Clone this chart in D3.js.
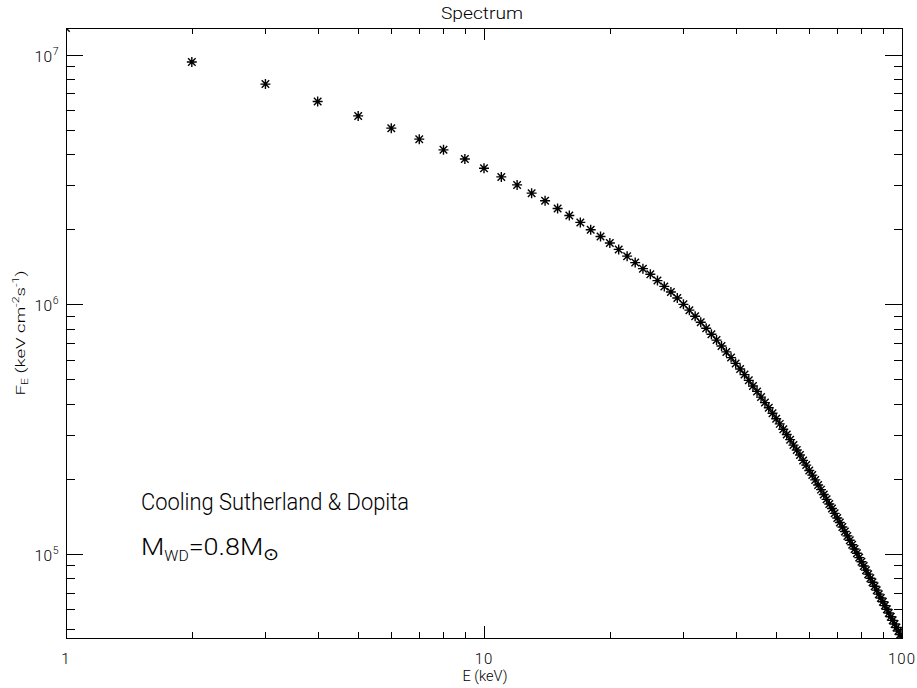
<!DOCTYPE html>
<html>
<head>
<meta charset="utf-8">
<script src="https://cdn.jsdelivr.net/npm/d3@7"></script>
<style>
  html, body { margin: 0; padding: 0; background: #fff; }
  svg { display: block; }
  text { font-family: "Roboto", "DejaVu Sans", sans-serif; font-weight: 300; fill: #000; }
</style>
</head>
<body>
<svg id="chart" width="917" height="688"></svg>
<script>
// ---- data ----
const energies = [1,2,3,4,5,6,7,8,9,10,11,12,13,14,15,16,17,18,19,20,
  21,22,23,24,25,26,27,28,29,30,31,32,33,34,35,36,37,38,39,40,
  41,42,43,44,45,46,47,48,49,50,51,52,53,54,55,56,57,58,59,60,
  61,62,63,64,65,66,67,68,69,70,71,72,73,74,75,76,77,78,79,80,
  81,82,83,84,85,86,87,88,89,90,91,92,93,94,95,96,97,98,99,100];
const flux = [1.28e7,9.35e6,7.63e6,6.50e6,5.69e6,5.08e6,4.59e6,4.16e6,3.82e6,3.51e6,
  3.24e6,3.01e6,2.79e6,2.60e6,2.42e6,2.27e6,2.13e6,1.99e6,1.87e6,1.76e6,
  1.66e6,1.56e6,1.47e6,1.39e6,1.32e6,1.245e6,1.18e6,1.12e6,1.06e6,1.00e6,
  9.48e5,8.96e5,8.48e5,8.02e5,7.59e5,7.19e5,6.81e5,6.45e5,6.12e5,5.80e5,
  5.51e5,5.23e5,4.96e5,4.71e5,4.48e5,4.25e5,4.04e5,3.85e5,3.66e5,3.48e5,
  3.32e5,3.16e5,3.01e5,2.87e5,2.73e5,2.61e5,2.49e5,2.37e5,2.27e5,2.16e5,
  2.07e5,1.98e5,1.89e5,1.81e5,1.73e5,1.655e5,1.585e5,1.52e5,1.454e5,1.394e5,
  1.336e5,1.282e5,1.230e5,1.181e5,1.134e5,1.089e5,1.046e5,1.006e5,9.67e4,9.30e4,
  8.95e4,8.61e4,8.30e4,7.99e4,7.70e4,7.42e4,7.16e4,6.90e4,6.66e4,6.43e4,
  6.21e4,6.00e4,5.80e4,5.60e4,5.42e4,5.24e4,5.07e4,4.91e4,4.755e4,4.605e4];
const xMajorTicks = [1, 10, 100];
const xTickLabels = ["1", "10", "100"];
const yMajorTicks = [1e5, 1e6, 1e7];
const yTickExponents = ["5", "6", "7"];
const titleText = "Spectrum";
const xLabelText = "E (keV)";
const annotationLine1 = "Cooling Sutherland & Dopita";

// ---- layout ----
const W = 917, H = 688;
const L = 66, R = 902, T = 28, B = 638;
const svg = d3.select("#chart");

const x = d3.scaleLog().domain([1, 100]).range([L, R]);
const y = d3.scaleLog().domain(d3.extent(flux)).range([B, T]);

const xTicks = x.ticks();
const yTicks = y.ticks();
const isMajor = v => Math.abs(Math.log10(v) - Math.round(Math.log10(v))) < 1e-9;

const axisG = svg.append("g").attr("stroke", "#000").attr("stroke-width", 1).attr("shape-rendering", "crispEdges");
axisG.append("rect").attr("x", L + 0.5).attr("y", T + 0.5).attr("width", R - L).attr("height", B - T).attr("fill", "none");

const xLenMaj = 12, xLenMin = 6, yLenMaj = 17, yLenMin = 8.5;
xTicks.forEach(v => {
  const px = Math.round(x(v)) + 0.5;
  const len = isMajor(v) ? xLenMaj : xLenMin;
  axisG.append("line").attr("x1", px).attr("x2", px).attr("y1", B).attr("y2", B - len);
  axisG.append("line").attr("x1", px).attr("x2", px).attr("y1", T).attr("y2", T + len);
});
yTicks.forEach(v => {
  const py = Math.round(y(v)) + 0.5;
  const len = isMajor(v) ? yLenMaj : yLenMin;
  axisG.append("line").attr("x1", L).attr("x2", L + len).attr("y1", py).attr("y2", py);
  axisG.append("line").attr("x1", R).attr("x2", R - len).attr("y1", py).attr("y2", py);
});

// x tick labels
xMajorTicks.forEach((v, i) => {
  svg.append("text").attr("x", x(v)).attr("y", 664)
    .attr("text-anchor", "middle").attr("font-size", 15).attr("letter-spacing", 1).text(xTickLabels[i]);
});
// y tick labels (10^n)
yMajorTicks.forEach((v, i) => {
  const t = svg.append("text").attr("x", 59).attr("y", y(v) + 7)
    .attr("text-anchor", "end").attr("font-size", 15.5).attr("letter-spacing", 0.5);
  t.append("tspan").text("10");
  t.append("tspan").attr("font-size", 10.5).attr("dy", -7).text(yTickExponents[i]);
});

// title and labels
svg.append("text").attr("x", 482).attr("y", 19).attr("text-anchor", "middle")
  .attr("font-size", 16).attr("textLength", 82).attr("lengthAdjust", "spacingAndGlyphs").text(titleText);
svg.append("text").attr("x", 485).attr("y", 681).attr("text-anchor", "middle")
  .attr("font-size", 14).attr("textLength", 45).attr("lengthAdjust", "spacingAndGlyphs").text(xLabelText);

const yl = svg.append("text").attr("transform", `translate(25, 333) rotate(-90)`)
  .attr("text-anchor", "middle").attr("font-size", 13.5)
  .attr("textLength", 125).attr("lengthAdjust", "spacingAndGlyphs");
yl.append("tspan").text("F");
yl.append("tspan").attr("font-size", 9).attr("dy", 3).text("E");
yl.append("tspan").attr("dy", -3).text(" (keV cm");
yl.append("tspan").attr("font-size", 9).attr("dy", -6).text("-2");
yl.append("tspan").attr("dy", 6).text("s");
yl.append("tspan").attr("font-size", 9).attr("dy", -6).text("-1");
yl.append("tspan").attr("dy", 6).text(")");

// annotation
svg.append("text").attr("x", 141).attr("y", 510).attr("font-size", 24)
  .attr("textLength", 268).attr("lengthAdjust", "spacingAndGlyphs").text(annotationLine1);
const a2 = svg.append("text").attr("x", 141).attr("y", 555).attr("font-size", 24)
  .attr("textLength", 138).attr("lengthAdjust", "spacingAndGlyphs");
a2.append("tspan").text("M");
a2.append("tspan").attr("font-size", 14).attr("dy", 6).text("WD");
a2.append("tspan").attr("dy", -6).text("=0.8M");
a2.append("tspan").attr("font-size", 17).attr("dy", 5).text("\u2299");

// markers (asterisks), clipped to plot area
svg.append("clipPath").attr("id", "clip").append("rect")
  .attr("x", L).attr("y", T).attr("width", R - L).attr("height", B - T);
const s = 5;
const astPath = `M${-s},0H${s}M0,${-s}V${s}M${-s*0.75},${-s*0.75}L${s*0.75},${s*0.75}M${-s*0.75},${s*0.75}L${s*0.75},${-s*0.75}`;
svg.append("g").attr("clip-path", "url(#clip)")
  .selectAll("path").data(energies.map((e, i) => [e, flux[i]])).join("path")
  .attr("transform", d => `translate(${x(d[0])},${y(d[1])})`)
  .attr("d", astPath).attr("fill", "none").attr("stroke", "#000").attr("stroke-width", 1.4);
</script>
</body>
</html>
